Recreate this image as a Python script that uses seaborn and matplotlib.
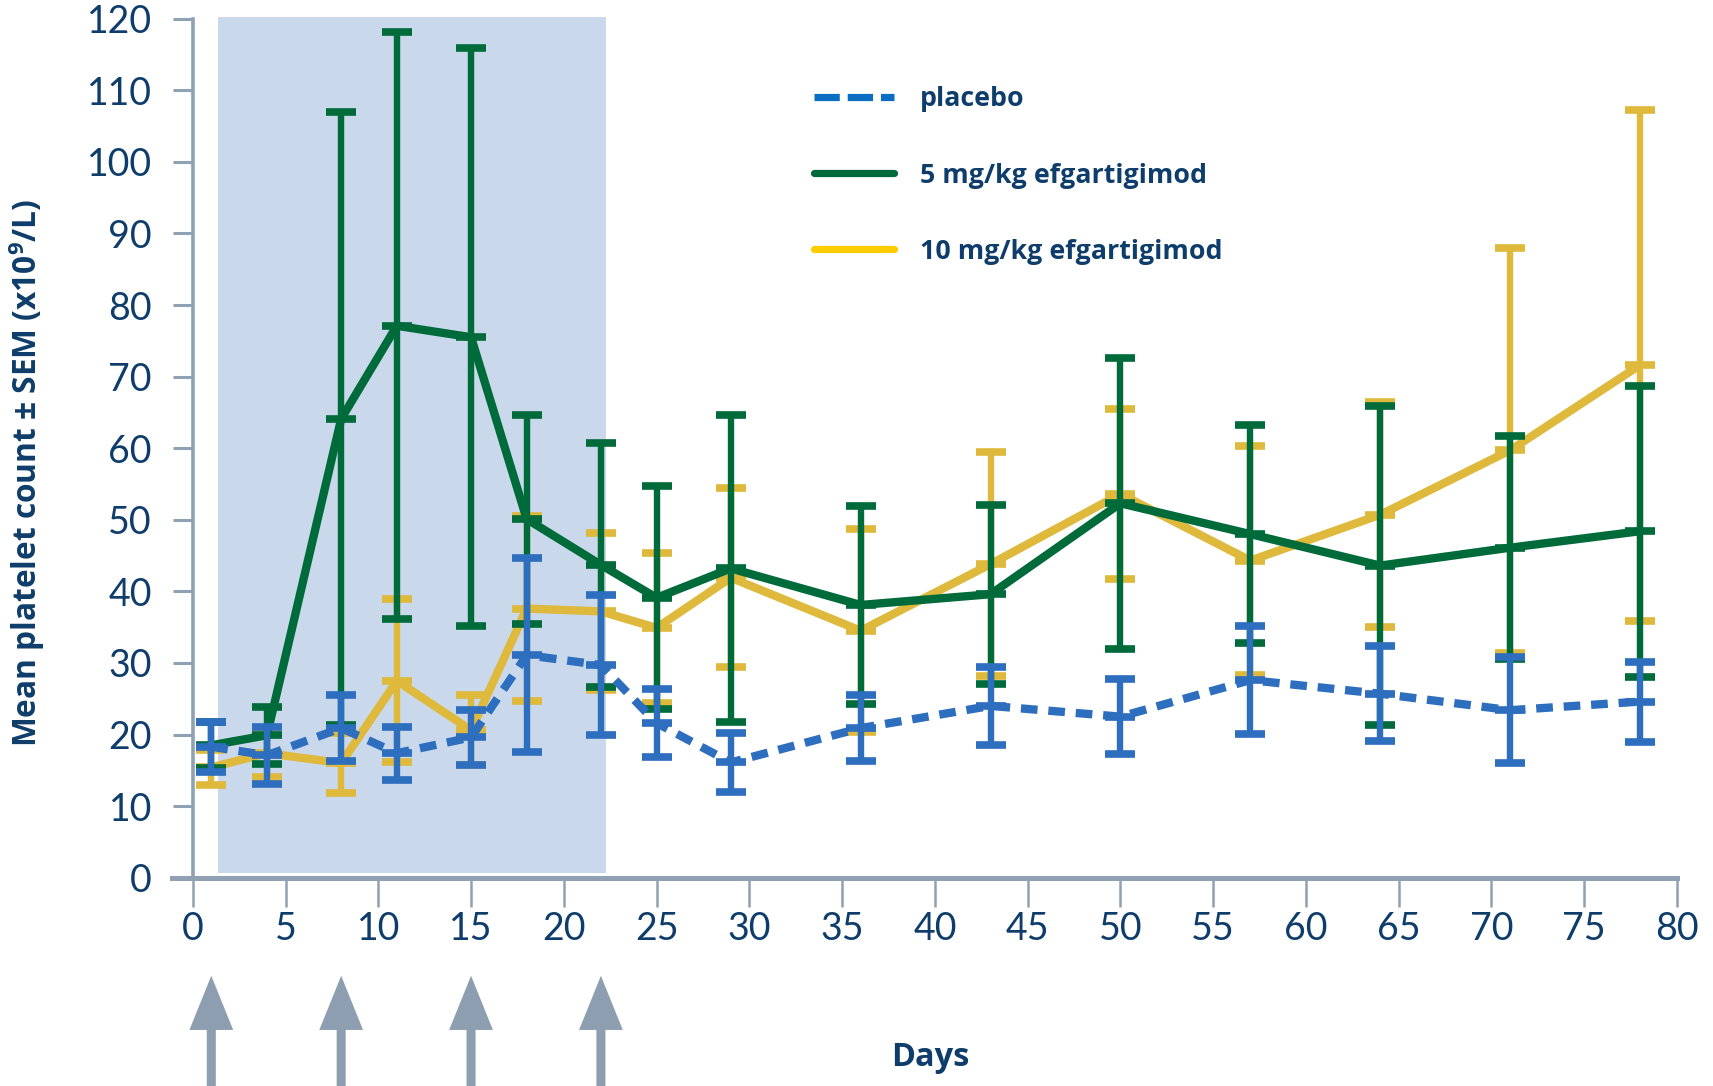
import numpy as np
import pandas as pd
import matplotlib
matplotlib.use("Agg")
import matplotlib.pyplot as plt
import seaborn as sns
from matplotlib.lines import Line2D

# Study days with platelet measurements
days = [1, 4, 8, 11, 15, 18, 22, 25, 29, 36, 43, 50, 57, 64, 71, 78]

# Mean platelet count (x10^9/L) and SEM per treatment arm
placebo_mean = [18.3, 17.1, 20.9, 17.4, 19.6, 31.1, 29.7, 21.6, 16.1, 20.9, 24.0, 22.5, 27.6, 25.7, 23.4, 24.6]
placebo_sem = [3.5, 4.0, 4.6, 3.7, 3.8, 13.6, 9.8, 4.7, 4.1, 4.6, 5.4, 5.2, 7.5, 6.6, 7.4, 5.6]

efg5_mean = [18.5, 19.9, 64.1, 77.1, 75.5, 50.1, 43.7, 39.1, 43.2, 38.1, 39.6, 52.3, 48.0, 43.6, 46.1, 48.4]
efg5_sem = [3.2, 4.0, 42.8, 41.0, 40.4, 14.6, 17.0, 15.6, 21.5, 13.8, 12.5, 20.3, 15.2, 22.3, 15.6, 20.3]

efg10_mean = [15.4, 17.4, 16.0, 27.5, 20.6, 37.6, 37.2, 34.9, 41.9, 34.5, 43.8, 53.6, 44.3, 50.7, 59.7, 71.6]
efg10_sem = [2.5, 3.3, 4.2, 11.4, 4.9, 12.9, 11.0, 10.5, 12.5, 14.2, 15.6, 11.9, 16.0, 15.7, 28.3, 35.7]

group_labels = ["placebo", "5 mg/kg efgartigimod", "10 mg/kg efgartigimod"]

# Dosing days (arrows) and treatment period (shaded band)
dose_days = [1, 8, 15, 22]
treatment_period = (1.35, 22.3)

x_ticks = list(range(0, 81, 5))
y_ticks = list(range(0, 121, 10))

# ---------------------------------------------------------------------------
df = pd.concat([
    pd.DataFrame({"day": days, "mean": placebo_mean, "sem": placebo_sem, "group": group_labels[0]}),
    pd.DataFrame({"day": days, "mean": efg5_mean, "sem": efg5_sem, "group": group_labels[1]}),
    pd.DataFrame({"day": days, "mean": efg10_mean, "sem": efg10_sem, "group": group_labels[2]}),
], ignore_index=True)

line_colors = {group_labels[0]: "#2E6EBE", group_labels[1]: "#006B3A", group_labels[2]: "#DFB93C"}
legend_colors = {group_labels[0]: "#0A6FC2", group_labels[1]: "#006A3A", group_labels[2]: "#FFCC00"}
line_styles = {group_labels[0]: (0, (2.0, 1.3)), group_labels[1]: "-", group_labels[2]: "-"}
layer = {group_labels[2]: 3, group_labels[1]: 4, group_labels[0]: 5}

navy = "#0F3D6B"
axis_grey = "#8FA1B3"
arrow_grey = "#8C9EAF"
band_blue = "#C9D9EB"

sns.set_theme(style="white")
plt.rcParams["font.family"] = ["Lato", "DejaVu Sans"]
plt.rcParams["mathtext.fontset"] = "custom"
plt.rcParams["mathtext.rm"] = "Open Sans"
plt.rcParams["mathtext.bf"] = "Open Sans:bold"

fig = plt.figure(figsize=(17.13, 10.86), dpi=100)
ax = fig.add_axes([0.1006, 0.1918, 0.979 - 0.1006, 0.9828 - 0.1918])

ax.axvspan(treatment_period[0], treatment_period[1], ymin=0.006, ymax=1.002,
           color=band_blue, lw=0, zorder=0, clip_on=False)

for g in [group_labels[2], group_labels[1], group_labels[0]]:
    sub = df[df["group"] == g]
    c = line_colors[g]
    z = layer[g]
    ax.errorbar(sub["day"], sub["mean"], yerr=sub["sem"], fmt="_", color=c,
                ms=21.6, mew=5.5, ecolor=c, elinewidth=4.6, capsize=10.8,
                capthick=5.5, zorder=z, clip_on=False)
    sns.lineplot(data=sub, x="day", y="mean", color=c, linewidth=6,
                 linestyle=line_styles[g], errorbar=None, legend=False,
                 ax=ax, zorder=z + 0.5, solid_capstyle="butt")

ax.set_xlim(-1.1, 80)
ax.set_ylim(0, 120)
ax.set_xticks(x_ticks)
ax.set_yticks(y_ticks)
ax.set_xlabel("")
ax.set_ylabel("")

ax.spines["left"].set_position(("data", 0))
ax.spines["top"].set_visible(False)
ax.spines["right"].set_visible(False)
ax.spines["left"].set_color(axis_grey)
ax.spines["left"].set_linewidth(2.6)
ax.spines["bottom"].set_color(axis_grey)
ax.spines["bottom"].set_linewidth(3.6)

ax.tick_params(axis="y", direction="out", length=14.4, width=2.2, color=axis_grey,
               pad=15, labelsize=27, labelcolor=navy, left=True)
ax.tick_params(axis="x", direction="out", length=21, width=1.8, color=axis_grey,
               pad=3, labelsize=27, labelcolor=navy, bottom=True)

# Dosing arrows under the day axis
for d in dose_days:
    ax.annotate("", xy=(d, -13.7), xytext=(d, -29.6), xycoords="data",
                annotation_clip=False,
                arrowprops=dict(width=6.5, headwidth=31.5, headlength=39,
                                facecolor=arrow_grey, edgecolor="none", shrink=0))

# Axis titles
label_font = ["Open Sans", "DejaVu Sans"]
fig.text(930 / 1713, 1 - 1057 / 1086, "Days", ha="center", va="center",
         fontsize=23.4, fontweight="bold", color=navy, family=label_font)
fig.text(27 / 1713, 1 - 473 / 1086,
         r"Mean platelet count ± SEM (x10$^{\mathbf{9}}$/L)",
         rotation=90, ha="center", va="center", fontsize=22.8,
         fontweight="bold", color=navy, family=label_font)

# Legend
handles = [
    Line2D([], [], color=legend_colors[group_labels[0]], lw=5.2, linestyle=(0, (3.5, 1.1))),
    Line2D([], [], color=legend_colors[group_labels[1]], lw=5.2),
    Line2D([], [], color=legend_colors[group_labels[2]], lw=5.2),
]
leg = ax.legend(handles, group_labels, loc="upper left",
                bbox_to_anchor=(814 / 1713, 1 - 86.5 / 1086), bbox_transform=fig.transFigure,
                frameon=False, handlelength=3.0, handletextpad=0.94, labelspacing=1.87,
                borderpad=0, borderaxespad=0,
                prop=dict(family="Open Sans", weight="bold", size=19.3))
for t in leg.get_texts():
    t.set_color(navy)

fig.savefig("out.png", dpi=100)
